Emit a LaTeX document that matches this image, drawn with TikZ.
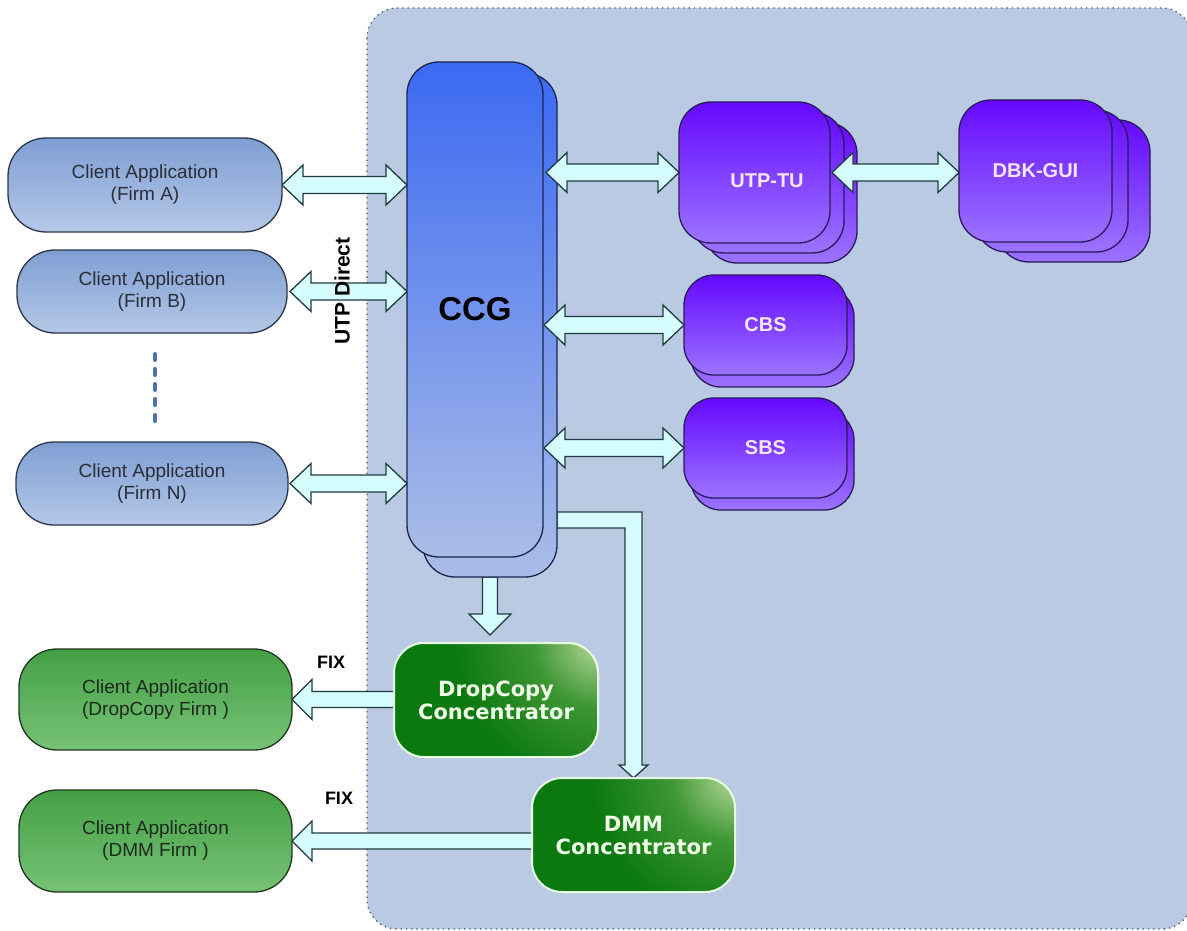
\documentclass[tikz,border=0pt]{standalone}
\usepackage{fontspec}
\setmainfont{Liberation Sans}
\newfontfamily\djvsans{DejaVu Sans}
\usetikzlibrary{calc}
\definecolor{bgfill}{HTML}{B9CAE2}
\definecolor{bgdot}{HTML}{4A5568}
\definecolor{cbTop}{HTML}{7E9ED3}
\definecolor{cbBot}{HTML}{B5C8E7}
\definecolor{bordblue}{HTML}{2B3548}
\definecolor{txtdark}{HTML}{2A2E3A}
\definecolor{cgTop}{HTML}{45A045}
\definecolor{cgBot}{HTML}{76C276}
\definecolor{bordgreen}{HTML}{1E381E}
\definecolor{txtgreen}{HTML}{1C2A1C}
\definecolor{ccgTop}{HTML}{3B69F2}
\definecolor{ccgBot}{HTML}{AABDE7}
\definecolor{bordccg}{HTML}{1A2550}
\definecolor{purTop}{HTML}{6508FF}
\definecolor{purBot}{HTML}{9C74FF}
\definecolor{bordpur}{HTML}{2A1A5A}
\definecolor{purText}{HTML}{F5E6FF}
\definecolor{concDark}{HTML}{0B7810}
\definecolor{concMid}{HTML}{3D9634}
\definecolor{concHl}{HTML}{B6D898}
\definecolor{concBord}{HTML}{E6FFE0}
\definecolor{concText}{HTML}{F0FFE8}
\definecolor{arrFill}{HTML}{D6FDFD}
\definecolor{arrBord}{HTML}{1E3A40}
\definecolor{dotblue}{HTML}{4F70B0}
\pgfdeclareradialshading{conchighlight}{\pgfpoint{0bp}{0bp}}{color(0bp)=(concHl); color(4bp)=(concMid); color(9bp)=(concDark); color(50bp)=(concDark)}
\pgfdeclarelayer{bglayer}
\pgfdeclarelayer{arrowlayer}
\pgfsetlayers{bglayer,arrowlayer,main}
\tikzset{
  every node/.style={inner sep=0pt, outer sep=0pt},
  clientblue/.style={draw=bordblue, line width=1.3pt, rounded corners=38pt, top color=cbTop, bottom color=cbBot, align=center, text=txtdark, font=\fontsize{19}{22}\selectfont},
  clientgreen/.style={clientblue, draw=bordgreen, top color=cgTop, bottom color=cgBot, text=txtgreen},
  ccgbox/.style={draw=bordccg, line width=1.3pt, rounded corners=32pt, top color=ccgTop, bottom color=ccgBot},
  purplebox/.style={draw=bordpur, line width=1.3pt, rounded corners=32pt, top color=purTop, bottom color=purBot},
  purplelabel/.style={text=purText, font=\bfseries\fontsize{20}{24}\selectfont},
  concbox/.style={draw=concBord, line width=2pt, rounded corners=30pt, fill=concDark, align=center, text=concText, font=\djvsans\bfseries\fontsize{21}{23}\selectfont, path picture={\shade[shading=conchighlight] (path picture bounding box.north east) circle (400pt);}},
  blockarrow/.style={draw=arrBord, fill=arrFill, line width=1.3pt, line join=miter},
  fixlabel/.style={font=\bfseries\fontsize{18}{20}\selectfont, text=black},
}
% horizontal double block arrow, #1 left tip, #2 right tip (y from #1)
\newcommand\myDblArrow[2]{\draw[blockarrow] let \p1=#1, \p2=#2 in
  (\x1,\y1) -- (\x1+21pt,\y1+20pt) -- (\x1+21pt,\y1+8.5pt) -- (\x2-21pt,\y1+8.5pt) -- (\x2-21pt,\y1+20pt) -- (\x2,\y1)
  -- (\x2-21pt,\y1-20pt) -- (\x2-21pt,\y1-8.5pt) -- (\x1+21pt,\y1-8.5pt) -- (\x1+21pt,\y1-20pt) -- cycle;}
% left-pointing block arrow, #1 tail (right), #2 tip (left)
\newcommand\myLeftArrow[2]{\draw[blockarrow] let \p1=#1, \p2=#2 in
  (\x2,\y2) -- (\x2+20pt,\y2+20pt) -- (\x2+20pt,\y2+8pt) -- (\x1,\y2+8pt) -- (\x1,\y2-8pt) -- (\x2+20pt,\y2-8pt) -- (\x2+20pt,\y2-20pt) -- cycle;}
% downward block arrow, #1 tail, #2 tip
\newcommand\myDownArrow[2]{\draw[blockarrow] let \p1=#1, \p2=#2 in
  (\x1-7.5pt,\y1) -- (\x1-7.5pt,\y2+21pt) -- (\x1-21pt,\y2+21pt) -- (\x1,\y2) -- (\x1+21pt,\y2+21pt) -- (\x1+7.5pt,\y2+21pt) -- (\x1+7.5pt,\y1) -- cycle;}
% bent block arrow: #1 start on the right side, #2 tip below
\newcommand\myBentArrow[2]{\draw[blockarrow] let \p1=#1, \p2=#2 in
  (\x1,\y1+8pt) -- (\x2+8.5pt,\y1+8pt) -- (\x2+8.5pt,\y2+13pt) -- (\x2+14.5pt,\y2+13pt) -- (\x2,\y2) -- (\x2-14.5pt,\y2+13pt) -- (\x2-8.5pt,\y2+13pt) -- (\x2-8.5pt,\y1-8pt) -- (\x1,\y1-8pt) -- cycle;}
\begin{document}
\begin{tikzpicture}[x=1pt,y=-1pt]
\useasboundingbox (0,0) rectangle (1187,931);
\begin{pgfonlayer}{bglayer}
  \fill[white] (0,0) rectangle (1187,931);
  \path[fill=bgfill, draw=bgdot, line width=1.3pt, dash pattern=on 1.3pt off 4pt, rounded corners=30pt] (367,8) rectangle (1192,929);
\end{pgfonlayer}

% client applications
\node[clientblue, minimum width=274pt, minimum height=94pt] (firmA) at (145,185) {Client Application\\(Firm A)};
\node[clientblue, minimum width=270pt, minimum height=83pt] (firmB) at (152,291.5) {Client Application\\(Firm B)};
\node[clientblue, minimum width=272pt, minimum height=83pt] (firmN) at (152,483.5) {Client Application\\(Firm N)};
\foreach \yy in {357,372,387,402,418} \draw[dotblue, line width=4pt, line cap=round] (155,\yy-3) -- (155,\yy+3);

\node[clientgreen, minimum width=273pt, minimum height=101pt] (dcfirm) at (155.5,699.5) {Client Application\\(DropCopy Firm )};
\node[clientgreen, minimum width=273pt, minimum height=102pt] (dmmfirm) at (155.5,841) {Client Application\\(DMM Firm )};

% CCG
\node[ccgbox, minimum width=134pt, minimum height=504pt] (ccgback) at (490,325) {};
\node[ccgbox, minimum width=136pt, minimum height=495pt, font=\bfseries\fontsize{33}{36}\selectfont] (ccg) at (475,309.5) {CCG};

% UTP-TU stack
\node[purplebox, minimum width=152pt, minimum height=141pt] (utpB) at (781,192.5) {};
\node[purplebox, minimum width=152pt, minimum height=141pt] (utpA) at (768,182.5) {};
\node[purplebox, minimum width=151pt, minimum height=141pt] (utp) at (754.5,172.5) {};
\node[purplelabel] (utplbl) at (767,181) {UTP-TU};

% DBK-GUI stack
\node[purplebox, minimum width=153pt, minimum height=142pt] (dbkB) at (1073.5,191) {};
\node[purplebox, minimum width=153pt, minimum height=142pt] (dbkA) at (1051.5,181) {};
\node[purplebox, minimum width=153pt, minimum height=142pt, purplelabel] (dbk) at (1035.5,171) {DBK-GUI};

% CBS, SBS
\node[purplebox, rounded corners=30pt, minimum width=163pt, minimum height=100pt] (cbsB) at (772.5,337) {};
\node[purplebox, rounded corners=30pt, minimum width=163pt, minimum height=100pt, purplelabel] (cbs) at (765.5,325) {CBS};
\node[purplebox, rounded corners=30pt, minimum width=163pt, minimum height=100pt] (sbsB) at (772.5,460) {};
\node[purplebox, rounded corners=30pt, minimum width=163pt, minimum height=100pt, purplelabel] (sbs) at (765.5,448) {SBS};

% concentrators
\node[concbox, minimum width=204pt, minimum height=114pt] (dropconc) at (496,700) {DropCopy\\Concentrator};
\node[concbox, minimum width=203pt, minimum height=114pt] (dmmconc) at (633.5,835) {DMM\\Concentrator};

% connectors below the boxes
\begin{pgfonlayer}{arrowlayer}
  \myDblArrow{(firmA.east)}{(ccg.west |- firmA.east)}
  \myDblArrow{($(firmB.east)+(3,0)$)}{(ccg.west |- firmB.east)}
  \myDblArrow{($(firmN.east)+(2,0)$)}{(ccg.west |- firmN.east)}
  \myDownArrow{(ccgback.south)}{($(ccgback.south |- dropconc.north)+(0,-8)$)}
  \myBentArrow{($(ccgback.south east)+(0,-57)$)}{(dmmconc.north)}
  \myLeftArrow{(dropconc.west)}{(dcfirm.east)}
  \myLeftArrow{(dmmconc.west)}{(dmmfirm.east)}
\end{pgfonlayer}
% connectors drawn over the stacked copies
\myDblArrow{($(ccg.east |- utp.west)+(3,0)$)}{(utp.west)}
\myDblArrow{($(utp.east)+(2,0)$)}{(dbk.west)}
\myDblArrow{($(ccg.east |- cbs.west)+(1,0)$)}{(cbs.west)}
\myDblArrow{($(ccg.east |- sbs.west)+(1,0)$)}{(sbs.west)}

\node[rotate=90, font=\bfseries\fontsize{21}{24}\selectfont] (utpdirect) at (342,291) {UTP Direct};
\node[fixlabel] (fix1) at (331,662) {FIX};
\node[fixlabel] (fix2) at (339,798) {FIX};
\end{tikzpicture}
\end{document}
